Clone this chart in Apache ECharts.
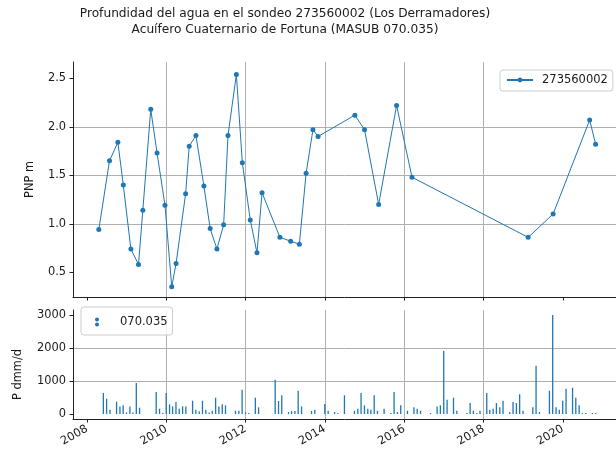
<!DOCTYPE html>
<html><head><meta charset="utf-8">
<script src="https://cdn.jsdelivr.net/npm/echarts@6/dist/echarts.min.js"></script>
<style>html,body{margin:0;padding:0;background:#fff}#c{width:616px;height:459px}</style>
</head><body><div id="c"></div>
<script>
const titleLines = ['Profundidad del agua en el sondeo 273560002 (Los Derramadores)', 'Acuífero Cuaternario de Fortuna (MASUB 070.035)'];
const depthSeriesName = '273560002';
const precipSeriesName = '070.035';
const depthAxisName = 'PNP m';
const precipAxisName = 'P dmm/d';

const depthDates = ['2008-04-19','2008-07-27','2008-10-12','2008-12-01','2009-02-09','2009-04-20','2009-05-30','2009-08-11','2009-10-08','2009-12-20','2010-02-20','2010-04-01','2010-06-28','2010-07-31','2010-10-01','2010-12-13','2011-02-09','2011-04-12','2011-06-13','2011-07-23','2011-10-08','2011-12-02','2012-02-13','2012-04-15','2012-06-01','2012-11-13','2013-02-20','2013-05-11','2013-07-12','2013-09-13','2013-10-30','2014-10-04','2015-01-01','2015-05-11','2015-10-23','2016-03-13','2019-02-16','2019-10-04','2020-09-05','2020-10-30'];
const depthValues = [0.94,1.65,1.84,1.40,0.74,0.58,1.14,2.18,1.73,1.19,0.35,0.59,1.31,1.80,1.91,1.39,0.95,0.74,0.99,1.91,2.54,1.63,1.04,0.70,1.32,0.86,0.82,0.79,1.52,1.97,1.90,2.12,1.97,1.20,2.22,1.48,0.86,1.10,2.07,1.82];

const precipMonths = ['2008-05','2008-06','2008-07','2008-09','2008-10','2008-11','2008-12','2009-01','2009-02','2009-03','2009-04','2009-09','2009-10','2009-11','2009-12','2010-01','2010-02','2010-03','2010-04','2010-05','2010-06','2010-08','2010-09','2010-10','2010-11','2010-12','2011-01','2011-02','2011-03','2011-04','2011-05','2011-06','2011-09','2011-10','2011-11','2011-12','2012-01','2012-03','2012-04','2012-09','2012-10','2012-11','2013-01','2013-02','2013-03','2013-04','2013-05','2013-08','2013-09','2013-12','2014-01','2014-03','2014-04','2014-06','2014-09','2014-10','2014-11','2014-12','2015-01','2015-02','2015-03','2015-04','2015-06','2015-08','2015-09','2015-10','2015-11','2016-01','2016-03','2016-04','2016-05','2016-08','2016-10','2016-11','2016-12','2017-01','2017-03','2017-04','2017-07','2017-08','2017-09','2017-10','2017-11','2018-01','2018-02','2018-03','2018-04','2018-05','2018-06','2018-08','2018-09','2018-10','2018-11','2018-12','2019-03','2019-04','2019-05','2019-08','2019-09','2019-10','2019-11','2019-12','2020-01','2020-03','2020-04','2020-05','2020-06','2020-07','2020-09','2020-10'];
const precipValues = [636,465,131,374,232,263,50,232,50,939,192,667,162,30,636,293,232,364,162,232,232,404,131,81,404,131,50,101,495,232,293,263,101,101,737,50,30,495,202,1040,394,566,61,91,91,707,232,91,131,303,101,61,30,566,101,162,636,263,162,131,566,101,162,30,667,61,263,101,202,162,101,30,232,263,1909,434,495,101,30,333,101,30,101,636,131,162,333,202,404,61,364,333,596,101,202,1465,61,707,3000,202,131,404,768,798,495,263,30,30,30,30];

const yearTicks = [2008, 2010, 2012, 2014, 2016, 2018, 2020];
const depthTicks = [0.5, 1.0, 1.5, 2.0, 2.5];
const precipTicks = [0, 1000, 2000, 3000];

function fracYear(ms) {
  const y = new Date(ms).getUTCFullYear();
  const s = Date.UTC(y, 0, 1), e = Date.UTC(y + 1, 0, 1);
  return y + (ms - s) / (e - s);
}
const depthData = depthDates.map((d, i) => {
  const p = d.split('-').map(Number);
  return [fracYear(Date.UTC(p[0], p[1] - 1, p[2])), depthValues[i]];
});
const precipData = precipMonths.map((m, i) => {
  const p = m.split('-').map(Number);
  return [fracYear(Date.UTC(p[0], p[1], 0)), precipValues[i]];
});

const FONT = 'DejaVu Sans';
const TXT = '#1a1a1a';
const BLUE = '#1f77b4';
const GRIDC = '#b0b0b0';

function xAxisFor(gridIndex, showLabels) {
  return {
    type: 'value', gridIndex, min: 2007.647, max: 2021.342, splitNumber: 7,
    axisLine: { show: true, onZero: false, lineStyle: { color: '#222', width: 1 } },
    axisTick: { show: true, length: 3.5, customValues: yearTicks, lineStyle: { color: '#222', width: 1 } },
    axisLabel: { show: showLabels, customValues: yearTicks, rotate: 30, margin: 9,
      formatter: v => String(v), fontSize: 11.4, color: TXT, fontFamily: FONT },
    splitLine: { show: true, showMinLine: false, showMaxLine: false, lineStyle: { color: GRIDC, width: 1 } }
  };
}
function yAxisFor(gridIndex, min, max, splitNumber, ticks, fmt, name, nameGap, namePad) {
  return {
    type: 'value', gridIndex, min, max, splitNumber,
    name, nameLocation: 'middle', nameGap,
    nameTextStyle: { fontSize: 11.4, color: TXT, fontFamily: FONT, padding: namePad },
    axisLine: { show: true, onZero: false, lineStyle: { color: '#222', width: 1 } },
    axisTick: { show: true, length: 3.5, customValues: ticks, lineStyle: { color: '#222', width: 1 } },
    axisLabel: { customValues: ticks, margin: 7, formatter: fmt, fontSize: 11.4, color: TXT, fontFamily: FONT },
    splitLine: { show: true, showMinLine: false, showMaxLine: false, lineStyle: { color: GRIDC, width: 1 } }
  };
}

const chart = echarts.init(document.getElementById('c'), null, { renderer: 'canvas' });
chart.setOption({
  animation: false,
  backgroundColor: '#fff',
  graphic: [{
    type: 'text', x: 285, y: 6,
    style: { text: titleLines.join('\n'), fill: TXT, fontSize: 12.2, fontFamily: FONT,
      align: 'center', verticalAlign: 'top', lineHeight: 16 }
  }],
  grid: [
    { left: 73, top: 62, right: 0, height: 235, containLabel: false },
    { left: 73, top: 310, right: 0, height: 109, containLabel: false }
  ],
  xAxis: [xAxisFor(0, false), xAxisFor(1, true)],
  yAxis: [
    yAxisFor(0, 0.245, 2.668, 5, depthTicks, v => v.toFixed(1), depthAxisName, 37, [0, 0, 0, 0]),
    yAxisFor(1, -150, 3150, 3, precipTicks, v => String(v), precipAxisName, 49, [0, 20, 0, 0])
  ],
  legend: [
    { data: [{ name: depthSeriesName }], left: 500, top: 70, selectedMode: false,
      padding: [3, 5, 4, 6], itemWidth: 26, itemHeight: 6,
      borderColor: '#cccccc', borderWidth: 1, borderRadius: 3, backgroundColor: 'rgba(255,255,255,0.8)',
      textStyle: { fontSize: 11.5, color: TXT, fontFamily: FONT, padding: [0, 0, 0, 4], lineHeight: 14 } },
    { data: [{ name: precipSeriesName, icon: 'path://M0,0L0.01,0ZM26,9L25.99,9ZM13,0A2,2,0,1,1,13,4A2,2,0,1,1,13,0ZM13,5A2,2,0,1,1,13,9A2,2,0,1,1,13,5Z' }],
      left: 81, top: 307, selectedMode: false, symbolKeepAspect: false,
      padding: [8, 5, 6, 3], itemWidth: 26, itemHeight: 9,
      borderColor: '#cccccc', borderWidth: 1, borderRadius: 3, backgroundColor: 'rgba(255,255,255,0.8)',
      textStyle: { fontSize: 11.5, color: TXT, fontFamily: FONT, padding: [0, 0, 0, 5], lineHeight: 14 } }
  ],
  series: [
    { name: depthSeriesName, type: 'line', xAxisIndex: 0, yAxisIndex: 0, data: depthData,
      symbol: 'circle', symbolSize: 5, showSymbol: true, showAllSymbol: true, clip: false,
      lineStyle: { color: BLUE, width: 1 }, itemStyle: { color: BLUE },
      emphasis: { disabled: true } },
    { name: precipSeriesName, type: 'bar', xAxisIndex: 1, yAxisIndex: 1, data: precipData,
      barWidth: 1.3, itemStyle: { color: BLUE }, emphasis: { disabled: true } }
  ]
});
</script></body></html>
